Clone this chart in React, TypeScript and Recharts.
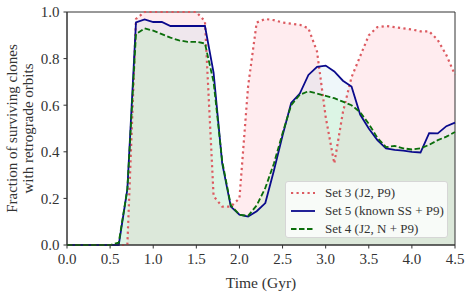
import React from 'react';
import { ComposedChart, Area, Line, XAxis, YAxis, ReferenceArea } from 'recharts';

const time = [0.0, 0.1, 0.2, 0.3, 0.4, 0.5, 0.6, 0.7, 0.8, 0.9, 1.0, 1.1, 1.2, 1.3, 1.4, 1.5, 1.6, 1.7, 1.8, 1.9, 2.0, 2.1, 2.2, 2.3, 2.4, 2.5, 2.6, 2.7, 2.8, 2.9, 3.0, 3.1, 3.2, 3.3, 3.4, 3.5, 3.6, 3.7, 3.8, 3.9, 4.0, 4.1, 4.2, 4.3, 4.4, 4.5];

// Set 3 (J2, P9)
const set3 = [0, 0, 0, 0, 0, 0, 0, 0, 0.97, 1.0, 1.0, 1.0, 1.0, 1.0, 1.0, 1.0, 0.96, 0.21, 0.165, 0.165, 0.2, 0.68, 0.955, 0.97, 0.965, 0.955, 0.95, 0.945, 0.93, 0.83, 0.55, 0.35, 0.57, 0.72, 0.81, 0.9, 0.935, 0.94, 0.935, 0.93, 0.925, 0.917, 0.917, 0.88, 0.815, 0.73];

// Set 5 (known SS + P9)
const set5 = [0, 0, 0, 0, 0, 0, 0, 0.24, 0.955, 0.968, 0.957, 0.957, 0.94, 0.94, 0.94, 0.94, 0.94, 0.74, 0.35, 0.165, 0.13, 0.122, 0.145, 0.18, 0.32, 0.47, 0.61, 0.65, 0.73, 0.765, 0.77, 0.745, 0.705, 0.68, 0.56, 0.5, 0.45, 0.415, 0.408, 0.405, 0.4, 0.397, 0.48, 0.479, 0.51, 0.525];

// Set 4 (J2, N + P9)
const set4 = [0, 0, 0, 0, 0, 0, 0.01, 0.24, 0.905, 0.93, 0.92, 0.905, 0.89, 0.878, 0.872, 0.872, 0.865, 0.7, 0.36, 0.17, 0.13, 0.125, 0.17, 0.245, 0.35, 0.48, 0.6, 0.645, 0.66, 0.65, 0.64, 0.63, 0.615, 0.6, 0.57, 0.52, 0.46, 0.42, 0.425, 0.415, 0.41, 0.415, 0.43, 0.45, 0.465, 0.485];

const xTicks = [0, 0.5, 1.0, 1.5, 2.0, 2.5, 3.0, 3.5, 4.0, 4.5];
const yTicks = [0, 0.2, 0.4, 0.6, 0.8, 1.0];

const label3 = 'Set 3 (J2, P9)';
const label5 = 'Set 5 (known SS + P9)';
const label4 = 'Set 4 (J2, N + P9)';
const xLabel = 'Time (Gyr)';
const yLabel1 = 'Fraction of surviving clones';
const yLabel2 = 'with retrograde orbits';

const data = time.map((t, i) => ({ t, s3: set3[i], s5: set5[i], s4: set4[i] }));

const FONT = "'Liberation Serif', 'Times New Roman', serif";
const TEXT = '#333333';
const RED = '#dc5a60';
const BLUE = '#0a0a8c';
const GREEN = '#0b6e0b';

const legendItems = [
  { label: label3, color: RED, w: 2.2, dash: '2.2 3.3' },
  { label: label5, color: BLUE, w: 1.8, dash: undefined },
  { label: label4, color: GREEN, w: 1.8, dash: '5.5 2.5' },
];

const YLabel = (props: any) => {
  const vb = props.viewBox || { y: 12, height: 233 };
  const cy = vb.y + vb.height / 2;
  return (
    <g>
      <text x={12} y={cy} transform={`rotate(-90 12 ${cy})`} textAnchor="middle" dominantBaseline="central" fontFamily={FONT} fontSize={15} fill={TEXT}>{yLabel1}</text>
      <text x={28} y={cy} transform={`rotate(-90 28 ${cy})`} textAnchor="middle" dominantBaseline="central" fontFamily={FONT} fontSize={15} fill={TEXT}>{yLabel2}</text>
    </g>
  );
};

export default function App() {
  return (
    <div style={{ position: 'absolute', left: 0, top: 0, width: 470, height: 294, background: '#fff' }}>
      <ComposedChart width={470} height={294} data={data} margin={{ top: 12, right: 15, left: 0, bottom: 0 }}>
        <XAxis
          dataKey="t"
          type="number"
          domain={[0, 4.5]}
          ticks={xTicks}
          tickFormatter={(v: number) => v.toFixed(1)}
          height={49}
          tickSize={3.5}
          tickMargin={5}
          stroke={TEXT}
          tick={{ fill: TEXT, fontSize: 15, fontFamily: FONT }}
          tickLine={{ stroke: TEXT }}
          axisLine={{ stroke: TEXT }}
          label={{ value: xLabel, position: 'insideBottom', offset: 6, fill: TEXT, fontSize: 15.5, fontFamily: FONT }}
        />
        <YAxis
          type="number"
          domain={[0, 1]}
          ticks={yTicks}
          tickFormatter={(v: number) => v.toFixed(1)}
          width={67}
          tickSize={3.5}
          tickMargin={4}
          stroke={TEXT}
          tick={{ fill: TEXT, fontSize: 15, fontFamily: FONT }}
          tickLine={{ stroke: TEXT }}
          axisLine={{ stroke: TEXT }}
          label={{ content: YLabel }}
        />
        <Area type="linear" dataKey="s3" stroke="none" fill="#ffc0cb" fillOpacity={0.3} isAnimationActive={false} />
        <Area type="linear" dataKey="s5" stroke="none" fill="#add8e6" fillOpacity={0.2} isAnimationActive={false} />
        <Area type="linear" dataKey="s4" stroke="none" fill="#90ee90" fillOpacity={0.2} isAnimationActive={false} />
        <Line type="linear" dataKey="s3" stroke={RED} strokeWidth={2.2} strokeDasharray="2.2 3.3" dot={false} isAnimationActive={false} />
        <Line type="linear" dataKey="s5" stroke={BLUE} strokeWidth={1.8} dot={false} isAnimationActive={false} />
        <Line type="linear" dataKey="s4" stroke={GREEN} strokeWidth={1.8} strokeDasharray="5.5 2.5" dot={false} isAnimationActive={false} />
        <ReferenceArea x1={0} x2={4.5} y1={0} y2={1} fill="none" stroke={TEXT} strokeWidth={1} fillOpacity={0} />
      </ComposedChart>
      <div
        style={{
          position: 'absolute', left: 285, top: 181, width: 163, height: 57, boxSizing: 'border-box',
          border: '1px solid #d6d6d6', borderRadius: 3, background: 'rgba(255,255,255,0.8)',
          fontFamily: FONT, fontSize: 13, color: TEXT, paddingTop: 2, paddingLeft: 4,
        }}
      >
        {legendItems.map((it) => (
          <div key={it.label} style={{ display: 'flex', alignItems: 'center', height: 18, whiteSpace: 'nowrap' }}>
            <svg width={26} height={6} style={{ marginRight: 9, flex: 'none' }}>
              <line x1={1} y1={3} x2={25} y2={3} stroke={it.color} strokeWidth={it.w} strokeDasharray={it.dash} />
            </svg>
            <span>{it.label}</span>
          </div>
        ))}
      </div>
    </div>
  );
}
